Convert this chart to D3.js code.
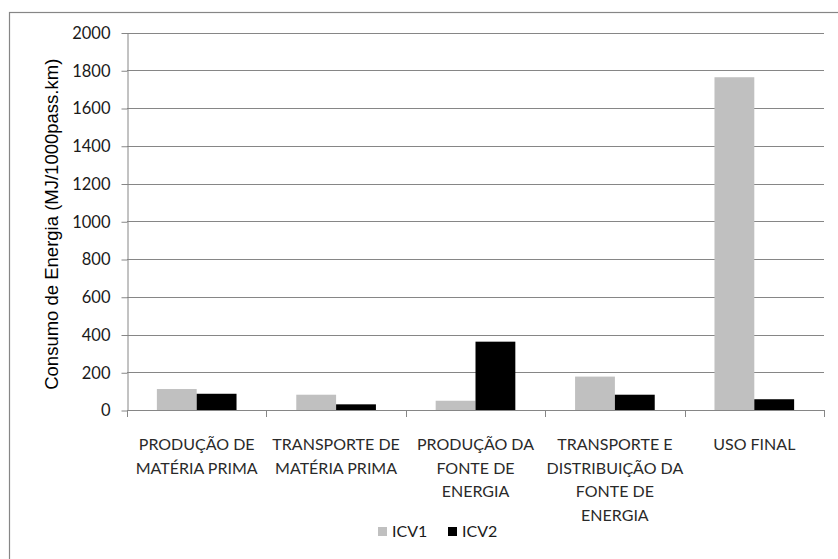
<!DOCTYPE html>
<html>
<head>
<meta charset="utf-8">
<script src="https://cdn.jsdelivr.net/npm/d3@7/dist/d3.min.js"></script>
<style>
  html, body { margin: 0; padding: 0; background: #fff; }
  svg { display: block; }
</style>
</head>
<body>
<svg id="chart" width="838" height="559"></svg>
<script>
// Energy consumption per life-cycle stage, two inventories
const categories = [
  "PRODUÇÃO DE MATÉRIA PRIMA",
  "TRANSPORTE DE MATÉRIA PRIMA",
  "PRODUÇÃO DA FONTE DE ENERGIA",
  "TRANSPORTE E DISTRIBUIÇÃO DA FONTE DE ENERGIA",
  "USO FINAL"
];
const categoryLines = [
  ["PRODUÇÃO DE", "MATÉRIA PRIMA"],
  ["TRANSPORTE DE", "MATÉRIA PRIMA"],
  ["PRODUÇÃO DA", "FONTE DE", "ENERGIA"],
  ["TRANSPORTE E", "DISTRIBUIÇÃO DA", "FONTE DE", "ENERGIA"],
  ["USO FINAL"]
];
const seriesNames = ["ICV1", "ICV2"];
const icv1 = [111, 81, 49, 177, 1763];
const icv2 = [86, 30, 362, 81, 57];
const yTicks = [0, 200, 400, 600, 800, 1000, 1200, 1400, 1600, 1800, 2000];
const yTitle = "Consumo de Energia (MJ/1000pass.km)";

const colors = { ICV1: "#c0c0c0", ICV2: "#000000" };
const lineColor = "#868686";
const catFont = "Lato, 'Open Sans', sans-serif";

const svg = d3.select("#chart");

// chart frame
svg.append("rect")
  .attr("x", 9.5).attr("y", 12.5)
  .attr("width", 840).attr("height", 560)
  .attr("fill", "#fff")
  .attr("stroke", lineColor).attr("stroke-width", 1.2);

const plot = { left: 127, right: 824, top: 32.5, bottom: 410 };

const x0 = d3.scaleBand()
  .domain(categories)
  .range([plot.left, plot.right])
  .padding(0);
const x1 = d3.scaleBand()
  .domain(seriesNames)
  .range([0, x0.bandwidth()])
  .paddingInner(0)
  .paddingOuter(0.75);
const y = d3.scaleLinear().domain([0, 2000]).range([plot.bottom, plot.top]);

// horizontal gridlines
svg.append("g")
  .selectAll("line")
  .data(yTicks.filter(d => d > 0))
  .join("line")
  .attr("x1", plot.left).attr("x2", plot.right)
  .attr("y1", d => Math.round(y(d)) + 0.5).attr("y2", d => Math.round(y(d)) + 0.5)
  .attr("stroke", lineColor).attr("stroke-width", 1);

// y axis
const yAxis = svg.append("g")
  .attr("transform", `translate(${plot.left + 0.5},0.5)`)
  .call(d3.axisLeft(y).tickValues(yTicks).tickFormat(d3.format("d"))
    .tickSize(6).tickPadding(11).tickSizeOuter(0));
yAxis.select(".domain").attr("stroke", lineColor);
yAxis.selectAll(".tick line").attr("stroke", lineColor);
yAxis.selectAll(".tick text")
  .attr("font-family", catFont)
  .attr("font-size", 16.5)
  .attr("fill", "#1a1a1a");

// bars
const groups = svg.append("g")
  .selectAll("g")
  .data(categories.map((c, i) => ({ c, vals: [icv1[i], icv2[i]] })))
  .join("g")
  .attr("transform", d => `translate(${x0(d.c)},0)`);
groups.selectAll("rect")
  .data(d => d.vals.map((v, j) => ({ name: seriesNames[j], v })))
  .join("rect")
  .attr("x", d => x1(d.name))
  .attr("width", x1.bandwidth())
  .attr("y", d => y(d.v))
  .attr("height", d => y(0) - y(d.v))
  .attr("fill", d => colors[d.name]);

// x axis with ticks between categories
const xAxisG = svg.append("g");
xAxisG.append("line")
  .attr("x1", plot.left).attr("x2", plot.right)
  .attr("y1", plot.bottom + 0.5).attr("y2", plot.bottom + 0.5)
  .attr("stroke", lineColor);
const bounds = categories.map(c => x0(c)).concat([plot.right]);
xAxisG.selectAll("line.tk")
  .data(bounds)
  .join("line")
  .attr("class", "tk")
  .attr("x1", d => Math.round(d) + 0.5).attr("x2", d => Math.round(d) + 0.5)
  .attr("y1", plot.bottom).attr("y2", plot.bottom + 7)
  .attr("stroke", lineColor);

// category labels
const labels = svg.append("g");
categories.forEach((c, i) => {
  const t = labels.append("text")
    .attr("x", x0(c) + x0.bandwidth() / 2)
    .attr("y", 450)
    .attr("text-anchor", "middle")
    .attr("font-family", catFont)
    .attr("font-size", 16)
    .attr("fill", "#2a2a2a");
  categoryLines[i].forEach((ln, k) => {
    t.append("tspan")
      .attr("x", x0(c) + x0.bandwidth() / 2)
      .attr("y", 450 + k * 23.7)
      .text(ln);
  });
});

// y axis title
svg.append("text")
  .attr("transform", `translate(58,${(plot.top + plot.bottom) / 2 + 3}) rotate(-90)`)
  .attr("text-anchor", "middle")
  .attr("font-family", "'Liberation Sans', Arial, sans-serif")
  .attr("font-size", 18.5)
  .attr("fill", "#000")
  .text(yTitle);

// legend
const legendItems = [
  { name: "ICV1", x: 378 },
  { name: "ICV2", x: 448 }
];
const legend = svg.append("g");
legendItems.forEach(it => {
  legend.append("rect")
    .attr("x", it.x).attr("y", 527)
    .attr("width", 9).attr("height", 9)
    .attr("fill", colors[it.name]);
  legend.append("text")
    .attr("x", it.x + 14).attr("y", 537)
    .attr("font-family", catFont)
    .attr("font-size", 16)
    .attr("fill", "#1a1a1a")
    .text(it.name);
});
</script>
</body>
</html>
